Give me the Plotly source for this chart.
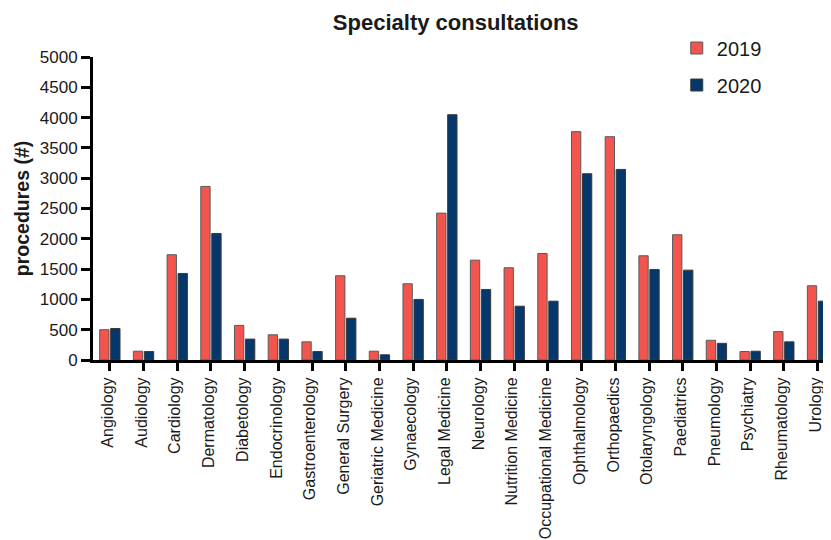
import plotly.graph_objects as go

categories = ["Angiology", "Audiology", "Cardiology", "Dermatology", "Diabetology",
              "Endocrinology", "Gastroenterology", "General Surgery", "Geriatric Medicine",
              "Gynaecology", "Legal Medicine", "Neurology", "Nutrition Medicine",
              "Occupational Medicine", "Ophthalmology", "Orthopaedics", "Otolaryngology",
              "Paediatrics", "Pneumology", "Psychiatry", "Rheumatology", "Urology"]
v2019 = [500, 145, 1737, 2864, 570, 416, 300, 1390, 145, 1258, 2424, 1648, 1522,
         1758, 3768, 3685, 1720, 2067, 325, 140, 468, 1225]
v2020 = [520, 140, 1428, 2088, 345, 345, 140, 690, 86, 1000, 4048, 1164, 888,
         971, 3074, 3145, 1494, 1483, 275, 145, 300, 971]
y_ticks = [0, 500, 1000, 1500, 2000, 2500, 3000, 3500, 4000, 4500, 5000]

FONT = "Liberation Sans, Arial, sans-serif"
C2019 = "#F2554E"
C2020 = "#06376A"

fig = go.Figure()
fig.add_trace(go.Bar(x=categories, y=v2019, name="2019", legendgroup="a",
                     marker=dict(color=C2019, line=dict(color="#5a5a5a", width=1))))
fig.add_trace(go.Bar(x=categories, y=v2020, name="2020", legendgroup="b",
                     marker=dict(color=C2020, line=dict(color="#3a3a3a", width=1))))

fig.update_layout(
    width=823, height=532,
    margin=dict(l=85, r=0, t=49, b=180, pad=0),
    paper_bgcolor="white", plot_bgcolor="white",
    barmode="group", bargap=0.348, bargroupgap=0.15,
    font=dict(family=FONT, color="#1a1a1a"),
    title=dict(text="<b>Specialty consultations</b>", x=0.544, xref="container",
               xanchor="center", y=0.9737, yref="container", yanchor="middle",
               font=dict(size=22, family=FONT, color="#1a1a1a")),
    legend=dict(x=0.791, xanchor="left", y=1.094, yanchor="top",
                font=dict(size=20, family=FONT, color="#1a1a1a"),
                bgcolor="rgba(0,0,0,0)", tracegroupgap=8,
                traceorder="grouped"),
    xaxis=dict(range=[-0.5, 21.4], showline=True, linecolor="black", linewidth=3,
               ticks="outside", ticklen=8, tickwidth=3, tickcolor="black",
               tickangle=-90, tickfont=dict(size=16, family=FONT, color="#1a1a1a"),
               ticklabelshift=-2,
               showgrid=False, automargin=False, zeroline=False),
    yaxis=dict(range=[0, 5000], tickvals=y_ticks, showline=True, linecolor="black",
               linewidth=3, ticks="outside", ticklen=9, tickwidth=3, tickcolor="black",
               tickfont=dict(size=17, family=FONT, color="#1a1a1a"),
               showgrid=False, zeroline=False, automargin=False,
               title=dict(text="<b>procedures (#)</b>", standoff=5,
                          font=dict(size=19.5, family=FONT, color="#1a1a1a"))),
)

fig.write_html("out.html")
